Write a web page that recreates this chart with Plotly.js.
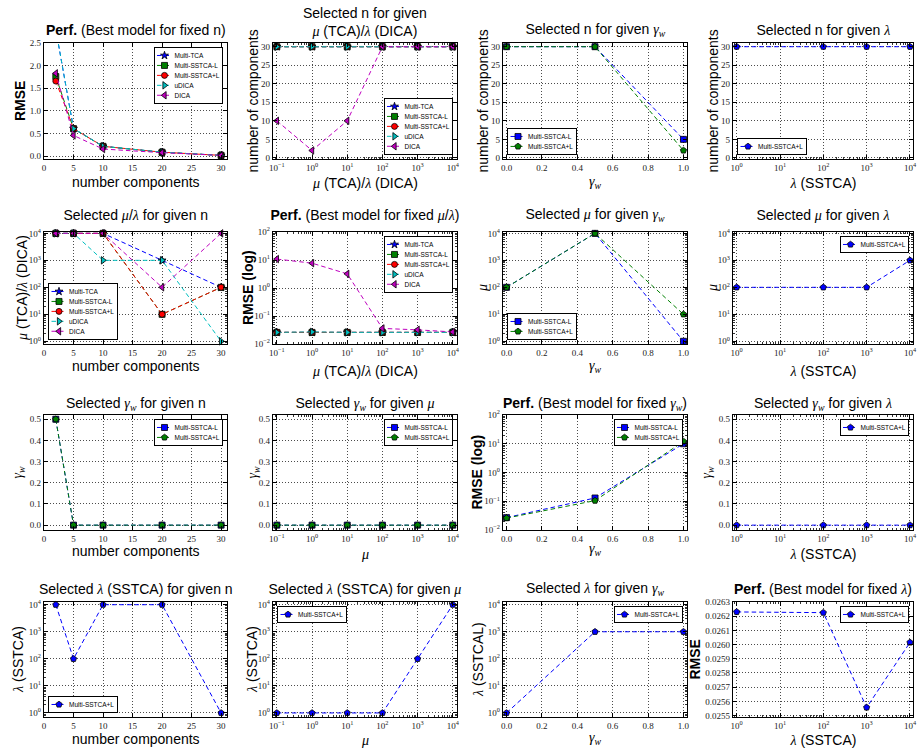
<!DOCTYPE html>
<html><head><meta charset="utf-8">
<script src="https://cdn.plot.ly/plotly-3.0.1.min.js"></script>
<style>
html,body{margin:0;padding:0;overflow:hidden;background:#fff;width:921px;height:751px}
#wrap{width:921px;height:751px;overflow:hidden;position:relative}
#chart{width:1842px;height:1502px;transform:scale(0.5);transform-origin:0 0;position:absolute;left:0;top:0}
</style></head><body><div id="wrap"><div id="chart"></div></div>
<script>
// ---------------- data ----------------
const nComponents = [2, 5, 10, 20, 30];
const muLambdaGrid = [0.1, 1, 10, 100, 1000, 10000];
const gammaWGrid = [0, 0.5, 1];
const lambdaGrid = [1, 100, 1000, 10000];

// row 1
const rmseByN_TCA = [2.8, 0.61, 0.22, 0.09, 0.02];
const rmseByN_SSTCAminusL = [1.76, 0.61, 0.22, 0.09, 0.02];
const rmseByN_SSTCAplusL = [1.66, 0.61, 0.22, 0.09, 0.02];
const rmseByN_uDICA = [2.8, 0.61, 0.22, 0.09, 0.02];
const rmseByN_DICA = [1.83, 0.46, 0.16, 0.08, 0.02];

const nByMu_TCA = [30, 30, 30, 30, 30, 30];
const nByMu_SSTCAminusL = [30, 30, 30, 30, 30, 30];
const nByMu_SSTCAplusL = [30, 30, 30, 30, 30, 30];
const nByMu_uDICA = [30, 30, 30, 30, 30, 30];
const nByMu_DICA = [10, 2, 10, 30, 30, 30];

const nByGamma_SSTCAminusL = [30, 30, 5];
const nByGamma_SSTCAplusL = [30, 30, 2];
const nByLambda_SSTCAplusL = [30, 30, 30, 30];

// row 2
const muByN_TCA = [10000, 10000, 10000, 1000, 100];
const muByN_SSTCAminusL = [10000, 10000, 10000, 10, 100];
const muByN_SSTCAplusL = [10000, 10000, 10000, 10, 100];
const muByN_uDICA = [10000, 10000, 1000, 1000, 1];
const muByN_DICA = [10000, 10000, 10000, 100, 10000];

const rmseByMu_TCA = [0.026, 0.026, 0.026, 0.026, 0.026, 0.026];
const rmseByMu_SSTCAminusL = [0.026, 0.026, 0.026, 0.026, 0.026, 0.026];
const rmseByMu_SSTCAplusL = [0.0262, 0.0262, 0.0262, 0.0262, 0.0262, 0.026];
const rmseByMu_uDICA = [0.026, 0.027, 0.026, 0.026, 0.026, 0.026];
const rmseByMu_DICA = [10.8, 7.7, 3.2, 0.036, 0.032, 0.027];

const muByGamma_SSTCAminusL = [100, 10000, 1];
const muByGamma_SSTCAplusL = [100, 10000, 10];
const muByLambda_SSTCAplusL = [100, 100, 100, 1000];

// row 3
const gammaByN_SSTCAminusL = [0.5, 0, 0, 0, 0];
const gammaByN_SSTCAplusL = [0.5, 0, 0, 0, 0];
const gammaByMu_SSTCAminusL = [0, 0, 0, 0, 0, 0];
const gammaByMu_SSTCAplusL = [0, 0, 0, 0, 0, 0];
const rmseByGamma_SSTCAminusL = [0.027, 0.13, 10];
const rmseByGamma_SSTCAplusL = [0.026, 0.105, 12];
const gammaByLambda_SSTCAplusL = [0, 0, 0, 0];

// row 4
const lambdaByN_SSTCAplusL = [10000, 100, 10000, 10000, 1];
const lambdaByMu_SSTCAplusL = [1, 1, 1, 1, 100, 10000];
const lambdaByGamma_SSTCAplusL = [1, 1000, 1000];
const rmseByLambda_SSTCAplusL = [0.02623, 0.026225, 0.025557, 0.026015];

// tick labels
const compTicks = [0, 5, 10, 15, 20, 25, 30];
const rmseLinTicks = [0, 0.5, 1, 1.5, 2, 2.5];
const muTicks = [0.1, 1, 10, 100, 1000, 10000];
const muTickLabels = ['10<sup>−1</sup>', '10<sup>0</sup>', '10<sup>1</sup>', '10<sup>2</sup>', '10<sup>3</sup>', '10<sup>4</sup>'];
const decTicks = [1, 10, 100, 1000, 10000];
const decTickLabels = ['10<sup>0</sup>', '10<sup>1</sup>', '10<sup>2</sup>', '10<sup>3</sup>', '10<sup>4</sup>'];
const rmseLogTicks = [0.01, 0.1, 1, 10, 100];
const rmseLogTickLabels = ['10<sup>−2</sup>', '10<sup>−1</sup>', '10<sup>0</sup>', '10<sup>1</sup>', '10<sup>2</sup>'];
const gammaXTicks = [0, 0.2, 0.4, 0.6, 0.8, 1.0];
const gammaYTicks = [0, 0.1, 0.2, 0.3, 0.4, 0.5];
const rmseLamTicks = [0.0255, 0.0256, 0.0257, 0.0258, 0.0259, 0.026, 0.0261, 0.0262, 0.0263];

// ---------------- styling ----------------
const S = 2, W = 921, H = 751;
const SANS = 'Liberation Sans, Arial, sans-serif';
const SERIF = 'Liberation Serif, Times New Roman, serif';
const MU = '<span style="font-family:Liberation Serif"><i>μ</i></span>';
const LAM = '<span style="font-family:Liberation Serif"><i>λ</i></span>';
const GW = '<span style="font-family:Liberation Serif"><i>γ</i></span><span style="font-family:Liberation Serif;font-size:70%;baseline-shift:-25%"><i>w</i></span>';

const STY = {
  TCA:  {name: 'Multi-TCA', color: '#0000ff', symbol: 'star', size: 6},
  SL:   {name: 'Multi-SSTCA-L', color: '#008000', symbol: 'square', size: 6},
  SPL:  {name: 'Multi-SSTCA+L', color: '#ff0000', symbol: 'circle', size: 6},
  UD:   {name: 'uDICA', color: '#00bfbf', symbol: 'triangle-right', size: 6.5},
  DI:   {name: 'DICA', color: '#bf00bf', symbol: 'triangle-left', size: 6.5},
  SLb:  {name: 'Multi-SSTCA-L', color: '#0000ff', symbol: 'square', size: 6},
  SPLg: {name: 'Multi-SSTCA+L', color: '#008000', symbol: 'pentagon', size: 6.5},
  SPLb: {name: 'Multi-SSTCA+L', color: '#0000ff', symbol: 'pentagon', size: 6.5}
};

const colsPx = [[44, 227], [273, 457], [503, 687], [733, 913]];
const rowsPx = [[43, 159], [232, 344], [415, 530], [602, 717]];

const XK = {
  n:   {type: 'linear', range: [0, 31], vals: compTicks},
  mu:  {type: 'log', range: [-1.11, 4.12], vals: muTicks, text: muTickLabels},
  g:   {type: 'linear', range: [-0.02, 1.02], vals: gammaXTicks, fmt: '.1f'},
  lam: {type: 'log', range: [-0.085, 4.07], vals: decTicks, text: decTickLabels}
};
const YK = {
  rmseLin: {type: 'linear', range: [-0.06, 2.5], vals: rmseLinTicks, fmt: '.1f'},
  ncomp:   {type: 'linear', range: [-0.3, 31], vals: compTicks},
  mulog:   {type: 'log', range: [-0.1, 4.05], vals: decTicks, text: decTickLabels},
  rmselog: {type: 'log', range: [-2, 2], vals: rmseLogTicks, text: rmseLogTickLabels},
  gamma:   {type: 'linear', range: [-0.023, 0.52], vals: gammaYTicks, fmt: '.1f'},
  lamlog:  {type: 'log', range: [-0.15, 4.1], vals: decTicks, text: decTickLabels},
  rmseLam: {type: 'linear', range: [0.02549, 0.0263], vals: rmseLamTicks, fmt: '.4f'}
};

const NC = 'number components';
const MUL = MU + ' (TCA)/' + LAM + ' (DICA)';
const panels = [
  {r:0,c:0, xk:'n', yk:'rmseLin', x:nComponents, leg:'ur', clip:true,
   title:'<b>Perf.</b> (Best model for fixed n)', xl:NC, yl:'<b>RMSE</b>', xly:182, ylx:20,
   s:[[STY.TCA, rmseByN_TCA],[STY.SL, rmseByN_SSTCAminusL],[STY.SPL, rmseByN_SSTCAplusL],[STY.UD, rmseByN_uDICA],[STY.DI, rmseByN_DICA]]},
  {r:0,c:1, xk:'mu', yk:'ncomp', x:muLambdaGrid, leg:'lr', ty:22,
   title:'Selected n for given<br>' + MUL, xl:MUL, yl:'number of components', xly:183, ylx:253,
   s:[[STY.TCA, nByMu_TCA],[STY.SL, nByMu_SSTCAminusL],[STY.SPL, nByMu_SSTCAplusL],[STY.UD, nByMu_uDICA],[STY.DI, nByMu_DICA]]},
  {r:0,c:2, xk:'g', yk:'ncomp', x:gammaWGrid, leg:'ll',
   title:'Selected n for given ' + GW, xl:GW, yl:'number of components', xly:182, ylx:483,
   s:[[STY.SLb, nByGamma_SSTCAminusL],[STY.SPLg, nByGamma_SSTCAplusL]]},
  {r:0,c:3, xk:'lam', yk:'ncomp', x:lambdaGrid, leg:'ll',
   title:'Selected n for given ' + LAM, xl:LAM + ' (SSTCA)', yl:'number of components', xly:183, ylx:713,
   s:[[STY.SPLb, nByLambda_SSTCAplusL]]},

  {r:1,c:0, xk:'n', yk:'mulog', x:nComponents, leg:'ll',
   title:'Selected ' + MU + '/' + LAM + ' for given n', xl:NC, yl:MUL, xly:366, ylx:22,
   s:[[STY.TCA, muByN_TCA],[STY.SL, muByN_SSTCAminusL],[STY.SPL, muByN_SSTCAplusL],[STY.UD, muByN_uDICA],[STY.DI, muByN_DICA]]},
  {r:1,c:1, xk:'mu', yk:'rmselog', x:muLambdaGrid, leg:'ur',
   title:'<b>Perf.</b> (Best model for fixed ' + MU + '/' + LAM + ')', xl:MUL, yl:'<b>RMSE (log)</b>', xly:371, ylx:248,
   s:[[STY.TCA, rmseByMu_TCA],[STY.SL, rmseByMu_SSTCAminusL],[STY.SPL, rmseByMu_SSTCAplusL],[STY.UD, rmseByMu_uDICA],[STY.DI, rmseByMu_DICA]]},
  {r:1,c:2, xk:'g', yk:'mulog', x:gammaWGrid, leg:'ll',
   title:'Selected ' + MU + ' for given ' + GW, xl:GW, yl:MU, xly:366, ylx:482,
   s:[[STY.SLb, muByGamma_SSTCAminusL],[STY.SPLg, muByGamma_SSTCAplusL]]},
  {r:1,c:3, xk:'lam', yk:'mulog', x:lambdaGrid, leg:'ur',
   title:'Selected ' + MU + ' for given ' + LAM, xl:LAM + ' (SSTCA)', yl:MU, xly:371, ylx:712,
   s:[[STY.SPLb, muByLambda_SSTCAplusL]]},

  {r:2,c:0, xk:'n', yk:'gamma', x:nComponents, leg:'ur',
   title:'Selected ' + GW + ' for given n', xl:NC, yl:GW, xly:551, ylx:18,
   s:[[STY.SLb, gammaByN_SSTCAminusL],[STY.SPLg, gammaByN_SSTCAplusL]]},
  {r:2,c:1, xk:'mu', yk:'gamma', x:muLambdaGrid, leg:'ur',
   title:'Selected ' + GW + ' for given ' + MU, xl:MU, yl:GW, xly:554, ylx:253,
   s:[[STY.SLb, gammaByMu_SSTCAminusL],[STY.SPLg, gammaByMu_SSTCAplusL]]},
  {r:2,c:2, xk:'g', yk:'rmselog', x:gammaWGrid, leg:'ur',
   title:'<b>Perf.</b> (Best model for fixed ' + GW + ')', xl:GW, yl:'<b>RMSE (log)</b>', xly:549, ylx:477,
   s:[[STY.SLb, rmseByGamma_SSTCAminusL],[STY.SPLg, rmseByGamma_SSTCAplusL]]},
  {r:2,c:3, xk:'lam', yk:'gamma', x:lambdaGrid, leg:'ur',
   title:'Selected ' + GW + ' for given ' + LAM, xl:LAM + ' (SSTCA)', yl:GW, xly:554, ylx:707,
   s:[[STY.SPLb, gammaByLambda_SSTCAplusL]]},

  {r:3,c:0, xk:'n', yk:'lamlog', x:nComponents, leg:'ll',
   title:'Selected ' + LAM + ' (SSTCA) for given n', xl:NC, yl:LAM + ' (SSTCA)', xly:739, ylx:18,
   s:[[STY.SPLb, lambdaByN_SSTCAplusL]]},
  {r:3,c:1, xk:'mu', yk:'lamlog', x:muLambdaGrid, leg:'ul',
   title:'Selected ' + LAM + ' (SSTCA) for given ' + MU, xl:MU, yl:LAM + ' (SSTCA)', xly:740, ylx:252,
   s:[[STY.SPLb, lambdaByMu_SSTCAplusL]]},
  {r:3,c:2, xk:'g', yk:'lamlog', x:gammaWGrid, leg:'ur',
   title:'Selected ' + LAM + ' for given ' + GW, xl:GW, yl:LAM + ' (SSTCAL)', xly:738, ylx:478,
   s:[[STY.SPLb, lambdaByGamma_SSTCAplusL]]},
  {r:3,c:3, xk:'lam', yk:'rmseLam', x:lambdaGrid, leg:'ur',
   title:'<b>Perf.</b> (Best model for fixed ' + LAM + ')', xl:LAM + ' (SSTCA)', yl:'<b>RMSE</b>', xly:740, ylx:695,
   s:[[STY.SPLb, rmseByLambda_SSTCAplusL]]}
];
const titleY = [30, 215, 404, 589];

function axisDef(k, dom, anchor) {
  const a = {
    type: k.type, range: k.range, domain: dom, anchor: anchor, autorange: false,
    showline: true, linecolor: '#000', linewidth: 1.2 * S, mirror: 'ticks',
    ticks: 'inside', ticklen: 4 * S, tickwidth: 1 * S, tickcolor: '#000',
    showgrid: true, gridcolor: '#000', gridwidth: 0.7 * S, griddash: '2px,4px',
    zeroline: false, tickmode: 'array', tickvals: k.vals,
    tickfont: {family: SERIF, size: 9 * S, color: '#222'}, fixedrange: true
  };
  if (k.text) a.ticktext = k.text;
  if (k.fmt) a.tickformat = k.fmt;
  if (k.type === 'log') {
    a.minor = {ticks: 'inside', ticklen: 2 * S, tickwidth: 0.8 * S, tickcolor: '#000', dtick: 'D1', showgrid: false};
  }
  return a;
}

const traces = [];
const layout = {
  width: W * S, height: H * S, margin: {l: 0, r: 0, t: 0, b: 0},
  paper_bgcolor: '#fff', plot_bgcolor: '#fff', showlegend: true,
  font: {family: SANS, size: 14 * S, color: '#000'},
  annotations: []
};

panels.forEach((p, i) => {
  const k = i + 1;
  const suf = k === 1 ? '' : String(k);
  const [x0, x1] = colsPx[p.c];
  const [y0, y1] = rowsPx[p.r];
  const xdom = [x0 / W, x1 / W];
  const ydom = [1 - y1 / H, 1 - y0 / H];
  layout['xaxis' + suf] = axisDef(XK[p.xk], xdom, 'y' + suf);
  layout['yaxis' + suf] = axisDef(YK[p.yk], ydom, 'x' + suf);

  const legId = 'legend' + suf;
  const ins = 4;
  const lg = {
    bgcolor: '#fff', bordercolor: '#000', borderwidth: 1 * S,
    font: {family: SANS, size: 6.5 * S, color: '#000'},
    itemwidth: 30, tracegroupgap: 0, traceorder: 'normal', orientation: 'v'
  };
  if (p.leg[1] === 'r') { lg.x = (x1 - ins) / W; lg.xanchor = 'right'; }
  else { lg.x = (x0 + ins) / W; lg.xanchor = 'left'; }
  if (p.leg[0] === 'u') { lg.y = 1 - (y0 + ins) / H; lg.yanchor = 'top'; }
  else { lg.y = 1 - (y1 - ins) / H; lg.yanchor = 'bottom'; }
  layout[legId] = lg;

  p.s.forEach(([st, ys]) => {
    traces.push({
      type: 'scatter', mode: 'lines+markers', x: p.x, y: ys, name: st.name,
      xaxis: 'x' + suf, yaxis: 'y' + suf, legend: legId, showlegend: true,
      cliponaxis: !!p.clip,
      line: {color: st.color, width: 1 * S, dash: '9px,6px'},
      marker: {symbol: st.symbol, color: st.color, size: st.size * S, line: {color: '#000', width: 0.8 * S}}
    });
  });

  const cx = (x0 + x1) / 2 / W;
  layout.annotations.push({
    text: p.title, xref: 'paper', yref: 'paper', x: cx, y: 1 - (p.ty || titleY[p.r]) / H,
    xanchor: 'center', yanchor: 'middle', showarrow: false,
    font: {family: SANS, size: 14 * S, color: '#000'}
  });
  layout.annotations.push({
    text: p.xl, xref: 'paper', yref: 'paper', x: cx, y: 1 - p.xly / H,
    xanchor: 'center', yanchor: 'middle', showarrow: false,
    font: {family: SANS, size: 14 * S, color: '#000'}
  });
  layout.annotations.push({
    text: p.yl, xref: 'paper', yref: 'paper', x: p.ylx / W, y: 1 - (y0 + y1) / 2 / H,
    xanchor: 'center', yanchor: 'middle', showarrow: false, textangle: -90,
    font: {family: SANS, size: 14 * S, color: '#000'}
  });
});

Plotly.newPlot('chart', traces, layout, {staticPlot: true, displayModeBar: false, responsive: false});
</script></body></html>
